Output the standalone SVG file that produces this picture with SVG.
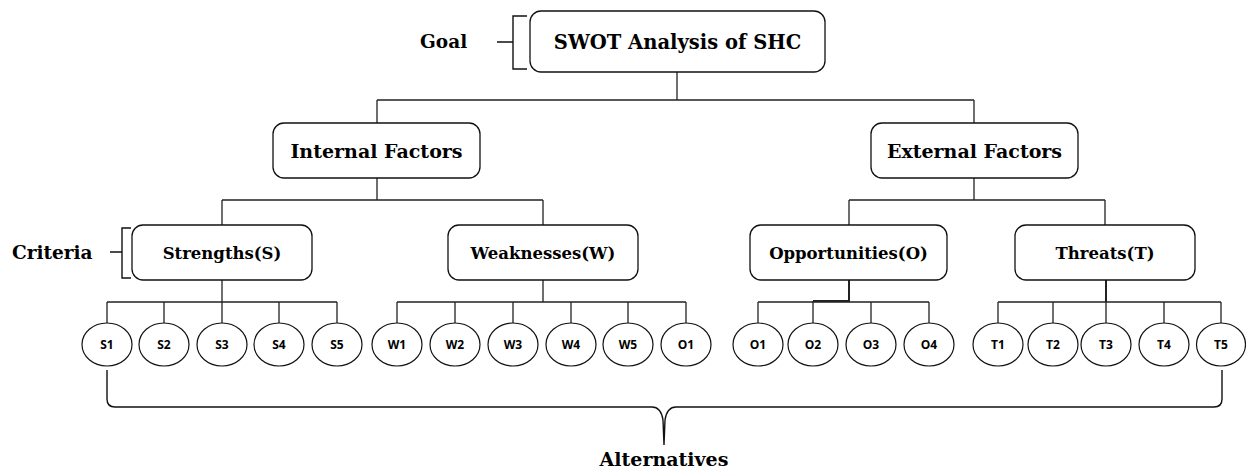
<svg xmlns="http://www.w3.org/2000/svg" width="1246" height="469" viewBox="0 0 1246 469">
<style>
.box{fill:#fff;stroke:#111;stroke-width:1.3}
.alt{fill:#fff;stroke:#111;stroke-width:1.2}
.lbl{font-family:"DejaVu Serif","Liberation Serif",serif;font-weight:bold;fill:#000;text-anchor:middle}
.side{font-family:"DejaVu Serif","Liberation Serif",serif;font-weight:bold;fill:#000;font-size:18.5px}
.c{font-family:"Open Sans","Liberation Sans",sans-serif;font-weight:bold;font-size:12px;fill:#000;text-anchor:middle}
.ln{fill:none;stroke:#222;stroke-width:1.3}
.br{fill:none;stroke:#111;stroke-width:1.4}
</style>
<g id="connectors" class="ln">
<path d="M677,72V100M377,100H974M377,100V123M974,100V123"/>
<path d="M377,178V200M222,200H543M222,200V225M543,200V225"/>
<path d="M974,178V200M849,200H1105M849,200V225M1105,200V225"/>
<path d="M222,280V302M107,302H337M107,302V323M164,302V323M222,302V323M279,302V323M337,302V323"/>
<path d="M543,280V302M397,302H686M397,302V323M455,302V323M513,302V323M571,302V323M628,302V323M686,302V323"/>
<path d="M758,302H929M758,302V323M813,301V323M871,302V323M929,302V323"/>
<path d="M849,280V301H813" stroke-width="2"/>
<path d="M1106,280V302" stroke-width="2"/>
<path d="M998,302H1221M998,302V323M1053,302V323M1164,302V323M1221,302V323M1106,302V323"/>
</g>
<g id="goal-label">
<text class="side" x="420" y="48">Goal</text>
<path class="br" d="M527,16H513V69H527M513,42H497"/>
</g>
<g id="criteria-label">
<text class="side" x="12" y="259">Criteria</text>
<path class="br" d="M131,228H122V278H131M122,252H110"/>
</g>
<g id="n-swot">
<rect class="box" x="530" y="11" width="295" height="61" rx="11"/>
<text class="lbl" x="677.5" y="48.5" font-size="19.5">SWOT Analysis of SHC</text>
</g>
<g id="n-internal">
<rect class="box" x="273" y="123" width="207" height="55" rx="11"/>
<text class="lbl" x="376.5" y="158" font-size="19">Internal Factors</text>
</g>
<g id="n-external">
<rect class="box" x="871" y="123" width="207" height="55" rx="11"/>
<text class="lbl" x="974.5" y="158" font-size="19">External Factors</text>
</g>
<g id="n-strengths">
<rect class="box" x="132" y="225" width="180" height="55" rx="11"/>
<text class="lbl" x="222" y="259" font-size="16.5">Strengths(S)</text>
</g>
<g id="n-weaknesses">
<rect class="box" x="448" y="225" width="190" height="55" rx="11"/>
<text class="lbl" x="543" y="259" font-size="16.5">Weaknesses(W)</text>
</g>
<g id="n-opportunities">
<rect class="box" x="750" y="225" width="197" height="55" rx="11"/>
<text class="lbl" x="848.5" y="259" font-size="16.5">Opportunities(O)</text>
</g>
<g id="n-threats">
<rect class="box" x="1015" y="225" width="180" height="55" rx="11"/>
<text class="lbl" x="1105" y="259" font-size="16.5">Threats(T)</text>
</g>
<g id="n-s1"><ellipse class="alt" cx="107" cy="344.5" rx="25" ry="21.5"/><text class="c" x="107" y="349">S1</text></g>
<g id="n-s2"><ellipse class="alt" cx="164" cy="344.5" rx="25" ry="21.5"/><text class="c" x="164" y="349">S2</text></g>
<g id="n-s3"><ellipse class="alt" cx="222" cy="344.5" rx="25" ry="21.5"/><text class="c" x="222" y="349">S3</text></g>
<g id="n-s4"><ellipse class="alt" cx="279" cy="344.5" rx="25" ry="21.5"/><text class="c" x="279" y="349">S4</text></g>
<g id="n-s5"><ellipse class="alt" cx="337" cy="344.5" rx="25" ry="21.5"/><text class="c" x="337" y="349">S5</text></g>
<g id="n-w1"><ellipse class="alt" cx="397" cy="344.5" rx="25" ry="21.5"/><text class="c" x="397" y="349">W1</text></g>
<g id="n-w2"><ellipse class="alt" cx="455" cy="344.5" rx="25" ry="21.5"/><text class="c" x="455" y="349">W2</text></g>
<g id="n-w3"><ellipse class="alt" cx="513" cy="344.5" rx="25" ry="21.5"/><text class="c" x="513" y="349">W3</text></g>
<g id="n-w4"><ellipse class="alt" cx="571" cy="344.5" rx="25" ry="21.5"/><text class="c" x="571" y="349">W4</text></g>
<g id="n-w5"><ellipse class="alt" cx="628" cy="344.5" rx="25" ry="21.5"/><text class="c" x="628" y="349">W5</text></g>
<g id="n-w-o1"><ellipse class="alt" cx="686" cy="344.5" rx="25" ry="21.5"/><text class="c" x="686" y="349">O1</text></g>
<g id="n-o1"><ellipse class="alt" cx="758" cy="344.5" rx="25" ry="21.5"/><text class="c" x="758" y="349">O1</text></g>
<g id="n-o2"><ellipse class="alt" cx="813" cy="344.5" rx="25" ry="21.5"/><text class="c" x="813" y="349">O2</text></g>
<g id="n-o3"><ellipse class="alt" cx="871" cy="344.5" rx="25" ry="21.5"/><text class="c" x="871" y="349">O3</text></g>
<g id="n-o4"><ellipse class="alt" cx="929" cy="344.5" rx="25" ry="21.5"/><text class="c" x="929" y="349">O4</text></g>
<g id="n-t1"><ellipse class="alt" cx="998" cy="344.5" rx="25" ry="21.5"/><text class="c" x="998" y="349">T1</text></g>
<g id="n-t2"><ellipse class="alt" cx="1053" cy="344.5" rx="25" ry="21.5"/><text class="c" x="1053" y="349">T2</text></g>
<g id="n-t3"><ellipse class="alt" cx="1106" cy="344.5" rx="25" ry="21.5"/><text class="c" x="1106" y="349">T3</text></g>
<g id="n-t4"><ellipse class="alt" cx="1164" cy="344.5" rx="25" ry="21.5"/><text class="c" x="1164" y="349">T4</text></g>
<g id="n-t5"><ellipse class="alt" cx="1221" cy="344.5" rx="24.5" ry="21.5"/><text class="c" x="1221" y="349">T5</text></g>
<g id="alternatives-label">
<path class="br" d="M107,370V399Q107,407 115,407H652Q661,407 663,420L664,445L665,420Q667,407 676,407H1214Q1222,407 1222,399V370"/>
<text class="lbl" x="664" y="466" font-size="19">Alternatives</text>
</g>
</svg>
